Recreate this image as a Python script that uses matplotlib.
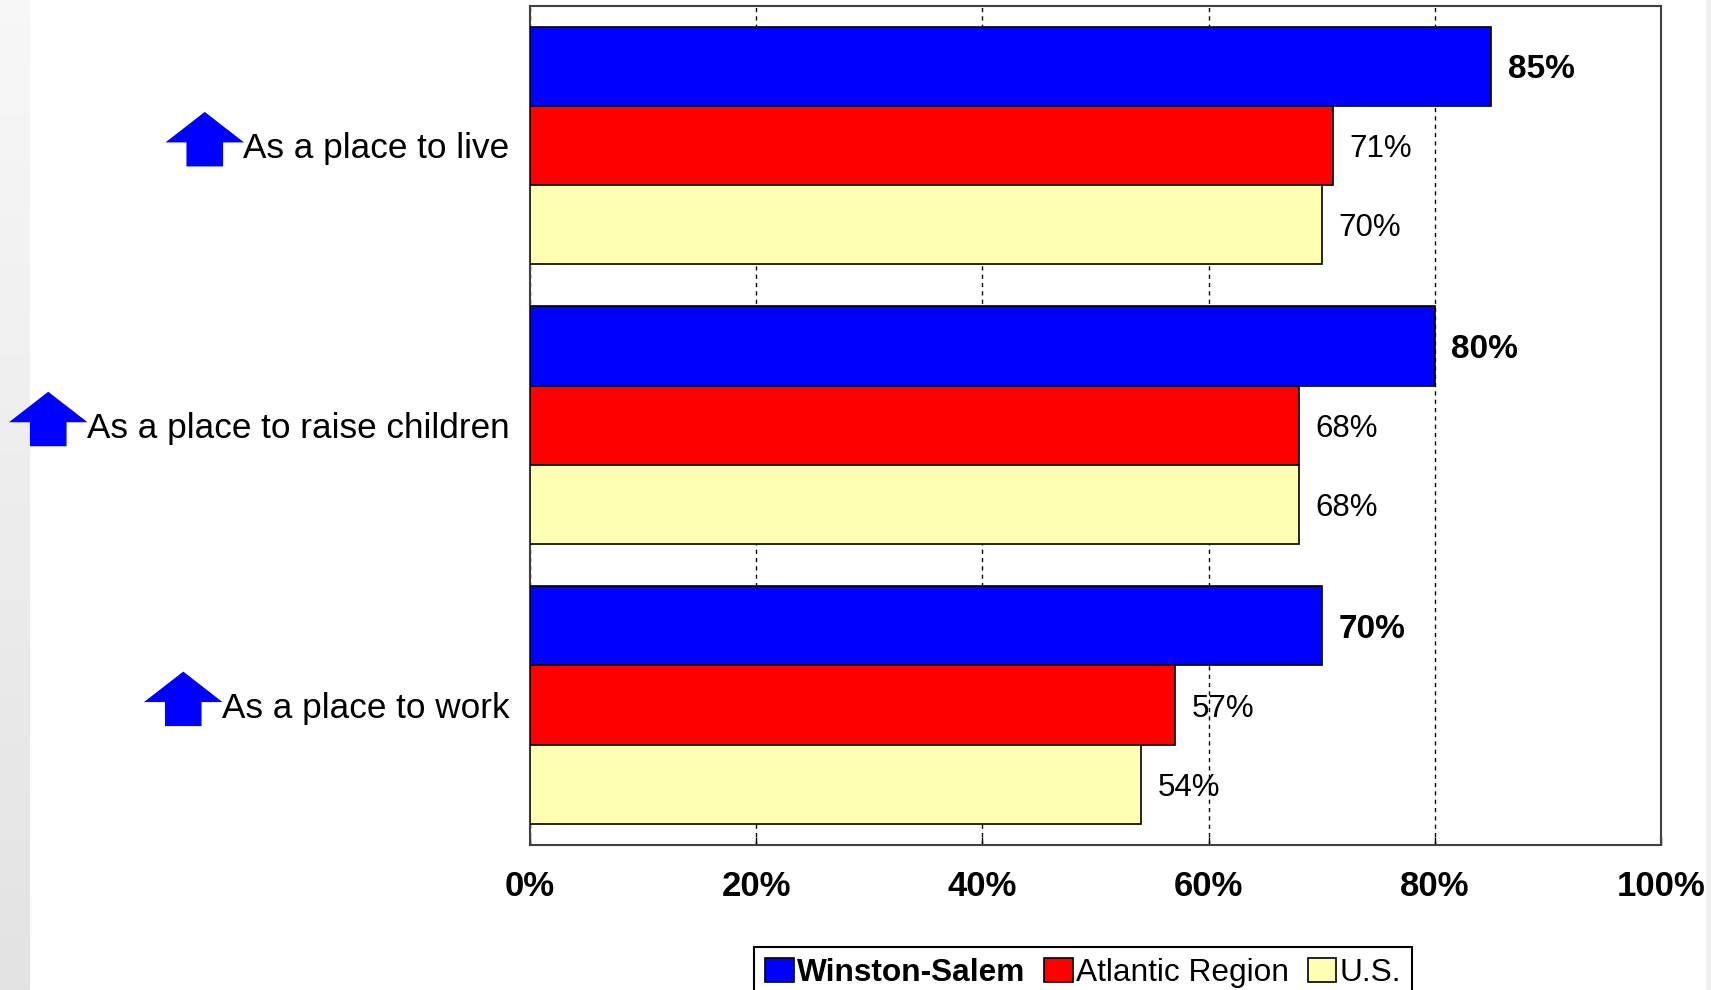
import matplotlib
matplotlib.use("Agg")
import matplotlib.pyplot as plt
import numpy as np
from matplotlib.patches import Polygon, Rectangle

plt.rcParams['font.family'] = ['Liberation Sans', 'DejaVu Sans']

categories = ["As a place to live", "As a place to raise children", "As a place to work"]
winston_salem = [85, 80, 70]
atlantic_region = [71, 68, 57]
us_values = [70, 68, 54]
series_names = ["Winston-Salem", "Atlantic Region", "U.S."]
series_colors = ["#0000FF", "#FF0000", "#FFFFB3"]
xtick_vals = [0, 20, 40, 60, 80, 100]
xtick_labels = ["0%", "20%", "40%", "60%", "80%", "100%"]

W, H = 1711, 990
fig = plt.figure(figsize=(W / 100, H / 100), dpi=100)
fig.patch.set_facecolor("white")

# side strips (background)
gax = fig.add_axes([0, 0, 30 / W, 1])
grad = np.linspace(0.97, 0.89, 256).reshape(-1, 1)
gax.imshow(np.dstack([grad, grad, grad]), aspect="auto", extent=[0, 1, 0, 1])
gax.set_axis_off()
fig.add_artist(Rectangle((1706 / W, 0), 5 / W, 1, transform=fig.transFigure,
                         facecolor="#f0f0f0", edgecolor="none"))

ax = fig.add_axes([530 / W, 1 - 845 / H, (1661 - 530) / W, (845 - 5.5) / H])

y = np.arange(len(categories))
bh = 0.283
all_series = [winston_salem, atlantic_region, us_values]
offsets = [-bh, 0, bh]
handles = []
for k, (vals, col, off, name) in enumerate(zip(all_series, series_colors, offsets, series_names)):
    bars = ax.barh(y + off, vals, height=bh, color=col, edgecolor="black",
                   linewidth=1.2, label=name, zorder=3)
    handles.append(bars)
    for yy, v in zip(y + off, vals):
        ax.annotate(f"{v}%", xy=(v, yy), xytext=(12, 0), textcoords="offset points",
                    va="center_baseline", ha="left", fontsize=24 if k == 0 else 22.5,
                    fontweight="bold" if k == 0 else "normal", zorder=5)

ax.set_xlim(0, 100)
ax.set_ylim(2.5, -0.5)
ax.set_yticks(y)
ax.set_yticklabels(categories, fontsize=25.3)
ax.set_xticks(xtick_vals)
ax.set_xticklabels(xtick_labels, fontsize=25, fontweight="bold")
ax.tick_params(axis="y", length=0, pad=15)
ax.tick_params(axis="x", direction="in", length=6, width=1, pad=18, top=False)
ax.set_axisbelow(True)
ax.xaxis.grid(True, color="black", linestyle=(0, (3, 3)), linewidth=1.0, zorder=0)
for s in ax.spines.values():
    s.set_color("#404040")
    s.set_linewidth(1.5)

leg = fig.legend(handles=handles, labels=series_names, loc="upper left",
                 bbox_to_anchor=(754 / W, 1 - 947 / H), ncol=3, fontsize=22.8,
                 frameon=True, fancybox=False, edgecolor="black", framealpha=1,
                 handlelength=0.9, handleheight=0.75, handletextpad=0.1,
                 columnspacing=0.6, borderpad=0.35, borderaxespad=0)
leg.get_frame().set_linewidth(1.5)
leg.get_texts()[0].set_fontweight("bold")

# up arrows next to category labels
fig.canvas.draw()
renderer = fig.canvas.get_renderer()
for i, lab in enumerate(ax.get_yticklabels()):
    bb = lab.get_window_extent(renderer)
    xr = bb.x0 + 1
    yc = ax.transData.transform((0, y[i]))[1]
    cx = xr - 39.3
    hw = 18.3
    pts = [
        (xr - 78.6, yc + 3),
        (cx, yc + 33.5),
        (xr, yc + 3),
        (cx + hw, yc + 3),
        (cx + hw, yc - 21),
        (cx - hw, yc - 21),
        (cx - hw, yc + 3),
    ]
    fig.add_artist(Polygon(pts, closed=True, transform=None, facecolor="#0000FF",
                           edgecolor="none"))

fig.savefig("out.png", dpi=100)
